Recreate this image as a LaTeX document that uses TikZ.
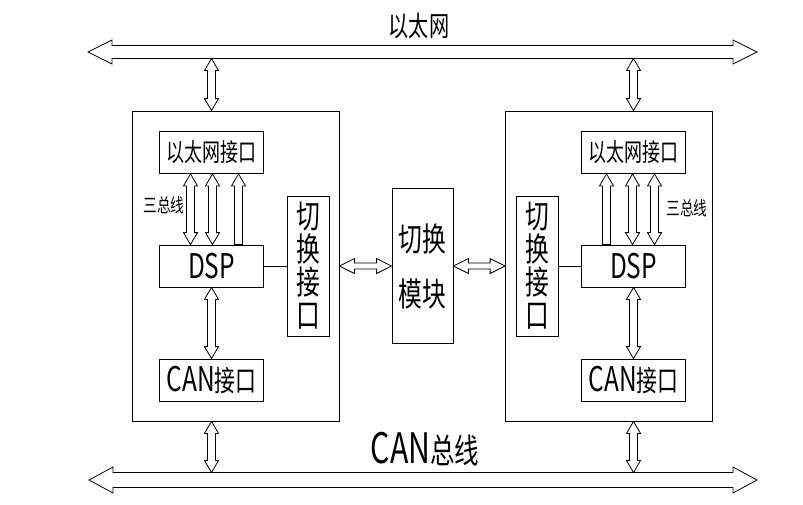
\documentclass[tikz,border=0pt]{standalone}
\usepackage{fontspec}
\setmainfont{Noto Sans CJK SC}[FakeStretch=0.72]
\usepackage{tikz}
\usetikzlibrary{calc}

% fat double-headed arrow, horizontal: left, right, half shaft, half head, head length
\newcommand{\hfat}[5]{%
  \draw[ln] let \p1=#1, \p2=#2 in
    (\x1,\y1) -- (\x1+#5,\y1+#4) -- (\x1+#5,\y1+#3) -- (\x2-#5,\y1+#3) -- (\x2-#5,\y1+#4)
    -- (\x2,\y1) -- (\x2-#5,\y1-#4) -- (\x2-#5,\y1-#3) -- (\x1+#5,\y1-#3) -- (\x1+#5,\y1-#4) -- cycle;}
% fat double-headed arrow, vertical: top, bottom
\newcommand{\vfat}[2]{%
  \draw[ln] let \p1=#1, \p2=#2 in
    (\x1,\y1) -- (\x1+7,\y1-12) -- (\x1+4,\y1-12) -- (\x1+4,\y2+12) -- (\x1+7,\y2+12) -- (\x1,\y2)
    -- (\x1-7,\y2+12) -- (\x1-4,\y2+12) -- (\x1-4,\y1-12) -- (\x1-7,\y1-12) -- cycle;}
% fat arrow, vertical, head at the top only
\newcommand{\vup}[2]{%
  \draw[ln] let \p1=#1, \p2=#2 in
    (\x1,\y1) -- (\x1+7,\y1-12) -- (\x1+4,\y1-12) -- (\x1+4,\y2) -- (\x1-4,\y2)
    -- (\x1-4,\y1-12) -- (\x1-7,\y1-12) -- cycle;}

\tikzset{
  ln/.style={line width=0.8pt},
  outer/.style={draw, ln, inner sep=0pt, minimum width=207pt, minimum height=310pt},
  blk/.style={draw, ln, inner sep=0pt, minimum width=104pt, minimum height=42pt},
  swbox/.style={draw, ln, inner sep=0pt, minimum width=42pt, minimum height=140pt,
    align=center, font=\fontsize{33}{33}\selectfont},
  modbox/.style={draw, ln, inner sep=0pt, minimum width=61pt, minimum height=155pt,
    align=center, font=\fontsize{33}{55}\selectfont},
  lbl/.style={inner sep=0pt}
}

\begin{document}
\begin{tikzpicture}[x=1pt, y=-1pt]
    \useasboundingbox (0,0) rectangle (803,504);

    % buses
    \coordinate (ebusW) at (88,52);
    \coordinate (ebusE) at (757,52);
    \coordinate (cbusW) at (89,480);
    \coordinate (cbusE) at (757,480);
    \hfat{(ebusW)}{(ebusE)}{6.5}{12}{24}
    \hfat{(cbusW)}{(cbusE)}{7.5}{13}{24}
    \node[lbl, font=\fontsize{28}{28}\selectfont] (etitle) at (419,26) {以太网};
    \node[lbl] (ctitle) at (425,449) {{\fontsize{42}{42}\selectfont CAN}{\fontsize{34}{34}\selectfont 总线}};

    % left unit
    \node[outer] (lbox) at (235.5,266) {};
    \node[blk, font=\fontsize{25}{25}\selectfont] (leth) at (211.5,152.5) {以太网接口};
    \node[blk, font=\fontsize{34}{34}\selectfont] (ldsp) at (211.5,266) {DSP};
    \node[blk] (lcan) at (211.5,380) {{\fontsize{34}{34}\selectfont CAN}{\fontsize{29}{29}\selectfont 接口}};
    \node[swbox] (lsw) at (308,266) {切\\换\\接\\口};
    \draw[ln] (ldsp) -- (lsw);
    \vfat{($(leth.south)+(-21,0)$)}{($(ldsp.north)+(-21,0)$)}
    \vfat{($(leth.south)+(1,0)$)}{($(ldsp.north)+(1,0)$)}
    \vup{($(leth.south)+(27,0)$)}{($(ldsp.north)+(27,0)$)}
    \node[lbl, font=\fontsize{19}{19}\selectfont] (lbus) at (164,205) {三总线};
    \vfat{(ldsp.south)}{(lcan.north)}
    \vfat{($(leth |- ebusW)+(0,6.5)$)}{(leth |- lbox.north)}
    \vfat{(leth |- lbox.south)}{($(leth |- cbusW)+(0,-7.5)$)}

    % switch module
    \node[modbox] (mod) at (422.5,266) {切换\\模块};

    % right unit
    \node[outer] (rbox) at (609,266) {};
    \node[blk, font=\fontsize{25}{25}\selectfont] (reth) at (633.5,152.5) {以太网接口};
    \node[blk, font=\fontsize{34}{34}\selectfont] (rdsp) at (633.5,266) {DSP};
    \node[blk] (rcan) at (633.5,380) {{\fontsize{34}{34}\selectfont CAN}{\fontsize{29}{29}\selectfont 接口}};
    \node[swbox] (rsw) at (537.5,266) {切\\换\\接\\口};
    \draw[ln] (rsw) -- (rdsp);
    \vup{($(reth.south)+(-27,0)$)}{($(rdsp.north)+(-27,0)$)}
    \vfat{($(reth.south)+(-1,0)$)}{($(rdsp.north)+(-1,0)$)}
    \vfat{($(reth.south)+(21,0)$)}{($(rdsp.north)+(21,0)$)}
    \node[lbl, font=\fontsize{19}{19}\selectfont] (rbus) at (687,208) {三总线};
    \vfat{(rdsp.south)}{(rcan.north)}
    \vfat{($(reth |- ebusE)+(0,6.5)$)}{(reth |- rbox.north)}
    \vfat{(reth |- rbox.south)}{($(reth |- cbusE)+(0,-7.5)$)}

    % links to the module
    \hfat{(lbox.east)}{(mod.west)}{3}{7.5}{15}
    \hfat{(mod.east)}{(rbox.west)}{3}{7.5}{15}
\end{tikzpicture}
\end{document}
